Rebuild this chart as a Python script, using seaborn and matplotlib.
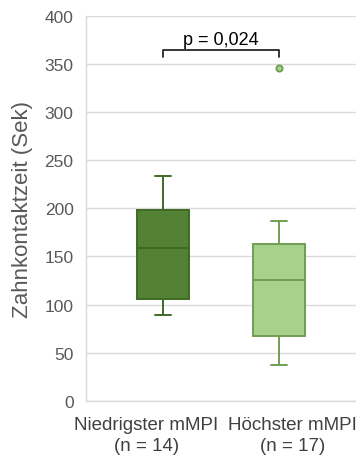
import matplotlib
matplotlib.use("Agg")
import matplotlib.pyplot as plt
import seaborn as sns
import pandas as pd

# Five-number summaries (seconds) per group, plus outliers
groups = ["Niedrigster mMPI\n(n = 14)", "Höchster mMPI\n(n = 17)"]
whisker_low = [88.8, 37.4]
q1 = [105.7, 67.6]
median = [158.4, 125.8]
q3 = [198.5, 162.9]
whisker_high = [233.6, 186.5]
outliers = [[], [345.5]]

fill_colors = ["#548235", "#a9d18e"]
edge_colors = ["#3f6a26", "#6f9e52"]

p_label = "p = 0,024"
bracket_y = 365
bracket_drop = 8

# Rebuild point sets whose quartiles reproduce the summaries
rows = []
for g, lo, a, m, b, hi, out in zip(groups, whisker_low, q1, median, q3, whisker_high, outliers):
    vals = [lo, a, a, m, m, b, b, hi] + list(out)
    rows += [(g, v) for v in vals]
df = pd.DataFrame(rows, columns=["group", "value"])

sns.set_theme(style="white")
plt.rcParams["font.family"] = ["Liberation Sans", "DejaVu Sans"]

fig = plt.figure(figsize=(3.56, 4.56), dpi=100)
ax = fig.add_axes([0.2416, 0.119, 0.7584, 0.8437])

sns.boxplot(
    data=df, x="group", y="value", hue="group", palette=fill_colors,
    legend=False, width=0.45, linewidth=1.4, saturation=1, ax=ax,
    capwidths=0.14,
    flierprops=dict(marker="o", markersize=4.5, markerfacecolor="#a9d18e",
                    markeredgecolor="#6f9e52", markeredgewidth=1.3),
)

# Per-box edge colours
for i, patch in enumerate(ax.patches[:2]):
    patch.set_edgecolor(edge_colors[i])
for line in ax.lines:
    xs = line.get_xdata()
    if len(xs) == 0:
        continue
    idx = 0 if sum(xs) / len(xs) < 0.5 else 1
    line.set_color(edge_colors[idx])
    if line.get_marker() not in (None, "None", ""):
        line.set_markeredgecolor(edge_colors[idx])
        line.set_markerfacecolor(fill_colors[1])
        line.set_linestyle("None")

ax.set_ylim(0, 400)
ax.set_xlim(-0.67, 1.67)
ax.set_yticks(range(0, 401, 50))
# Category labels sit slightly wider apart than the boxes
ax.set_xticks([-0.148, 1.122], groups)
for lbl in ax.get_xticklabels():
    lbl.set_linespacing(1.3)
ax.yaxis.grid(True, color="#d9d9d9", linewidth=1.0)
ax.set_axisbelow(True)
for side in ["top", "right"]:
    ax.spines[side].set_visible(False)
for side in ["left", "bottom"]:
    ax.spines[side].set_color("#d9d9d9")
    ax.spines[side].set_linewidth(1.0)

ax.tick_params(axis="y", length=0, pad=9, labelsize=12.5, labelcolor="#595959")
ax.tick_params(axis="x", length=0, pad=11, labelsize=13.5, labelcolor="#404040")
ax.set_xlabel("")
ax.set_ylabel("Zahnkontaktzeit (Sek)", fontsize=16, color="#595959", labelpad=8)

# Significance bracket
ax.plot([0, 0, 1, 1], [bracket_y - bracket_drop, bracket_y, bracket_y, bracket_y - bracket_drop],
        color="#262626", linewidth=1.3)
ax.text(0.5, bracket_y + 2, p_label, ha="center", va="bottom", fontsize=13, color="#000000")

fig.savefig("out.png", dpi=100)
